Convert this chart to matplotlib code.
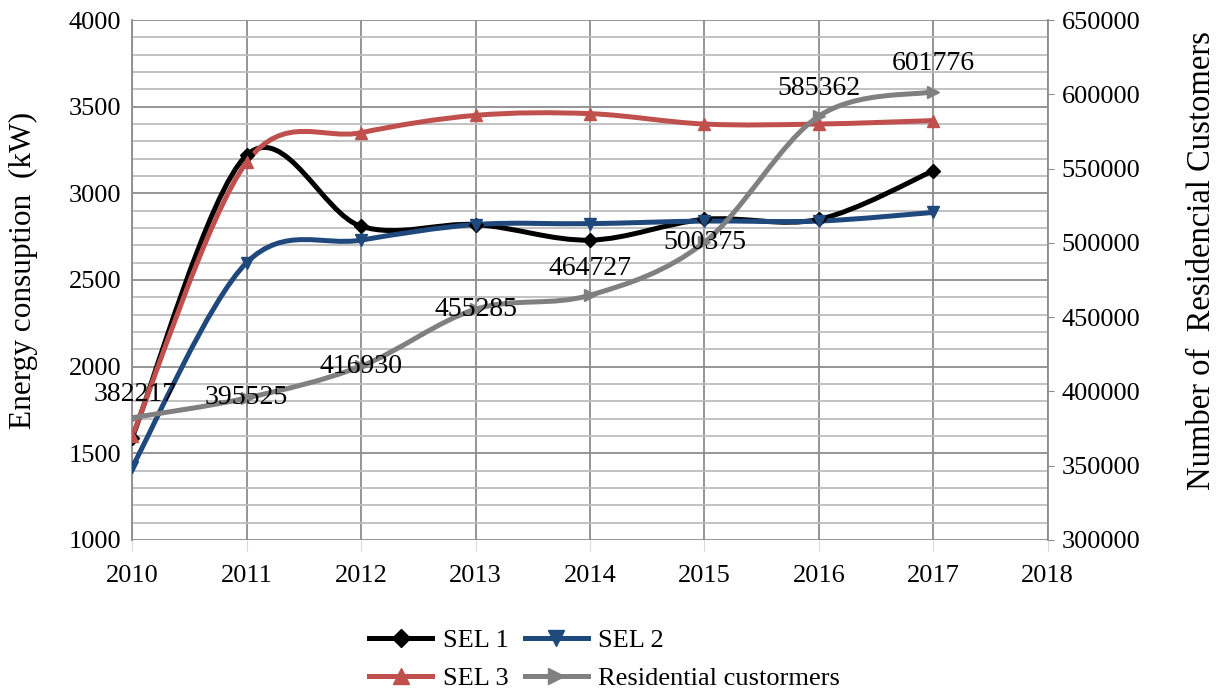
import matplotlib.pyplot as plt
import numpy as np
from matplotlib.path import Path
from matplotlib.patches import PathPatch
from matplotlib.lines import Line2D

plt.rcParams['font.family'] = ['Liberation Serif', 'DejaVu Serif']

years = [2010, 2011, 2012, 2013, 2014, 2015, 2016, 2017]
sel1 = [1590, 3220, 2810, 2820, 2730, 2850, 2850, 3130]
sel2 = [1420, 2600, 2730, 2820, 2825, 2840, 2840, 2890]
sel3 = [1600, 3180, 3350, 3450, 3460, 3400, 3400, 3420]
customers = [382217, 395525, 416930, 455285, 464727, 500375, 585362, 601776]

FS = 19


def smooth_path(x, y):
    # excel-ish smoothed line: bezier segments, catmull-rom control points
    p = np.column_stack([x, y]).astype(float)
    verts = [p[0]]
    codes = [Path.MOVETO]
    n = len(p)
    for i in range(n - 1):
        p0 = p[i - 1] if i > 0 else p[i]
        p3 = p[i + 2] if i + 2 < n else p[i + 1]
        c1 = p[i] + (p[i + 1] - p0) / 6
        c2 = p[i + 1] - (p3 - p[i]) / 6
        verts += [c1, c2, p[i + 1]]
        codes += [Path.CURVE4] * 3
    return Path(verts, codes)


fig = plt.figure(figsize=(12.24, 6.93), dpi=100)
ax = fig.add_axes([0.108, 0.221, 0.748, 0.750])
ax2 = ax.twinx()

ax.set_xlim(2010, 2018)
ax.set_ylim(1000, 4000)
ax2.set_ylim(300000, 650000)

ax.set_xticks(range(2010, 2019))
ax.set_yticks(range(1000, 4001, 500))
ax.set_yticks(range(1000, 4001, 100), minor=True)
ax2.set_yticks(range(300000, 650001, 50000))

ax.grid(which='major', color='#8c8c8c', lw=1.3)
ax.grid(which='minor', axis='y', color='#bdbdbd', lw=1.3)
ax.tick_params(axis='x', which='both', length=8, color='#d9d9d9', labelsize=FS,
               direction='out', pad=10)
ax.tick_params(axis='y', which='both', length=0, labelsize=FS, pad=8)
ax2.tick_params(axis='y', length=4, color='#8c8c8c', labelsize=FS, pad=6)
for a in (ax, ax2):
    for s in a.spines.values():
        s.set_visible(False)
ax2.spines['right'].set_visible(True)
ax2.spines['right'].set_color('#8c8c8c')
ax2.spines['right'].set_linewidth(1.3)
ax.spines['left'].set_visible(True)
ax.spines['left'].set_color('#8c8c8c')
ax.spines['left'].set_linewidth(1.3)

series = [
    (ax, sel1, '#000000', 'D', 'SEL 1', 7),
    (ax, sel2, '#1f497d', 'v', 'SEL 2', 9),
    (ax, sel3, '#c0504d', '^', 'SEL 3', 9),
    (ax2, customers, '#808080', '>', 'Residential custormers', 9),
]
handles = {}
for a, vals, col, mk, lab, ms in series:
    a.add_patch(PathPatch(smooth_path(years, vals), fill=False, edgecolor=col,
                          lw=3.6, capstyle='round', joinstyle='round', zorder=3))
    a.plot(years, vals, ls='none', marker=mk, ms=ms, color=col, zorder=4)
    handles[lab] = Line2D([], [], color=col, lw=3.6, marker=mk, ms=ms + 2)

# data labels for customers
offsets = [(2, 17), (0, 0), (0, 0), (0, 0), (0, 19), (0, 0), (0, 20), (0, 20)]
for x, v, (dx, dy) in zip(years, customers, offsets):
    ax2.annotate(str(v), (x, v), xytext=(dx, dy), textcoords='offset points',
                 ha='center', va='center', fontsize=20, zorder=5)

ax.set_ylabel('Energy consuption  (kW)', fontsize=22.5)
ax2.set_ylabel('Number of  Residencial Customers', fontsize=23.5)
ax.yaxis.set_label_coords(-0.119, 0.519)
ax2.yaxis.set_label_coords(1.168, 0.537)
ax.yaxis.label.set_va('center')
ax2.yaxis.label.set_va('center')

# legend order: row1 SEL1 SEL2, row2 SEL3 Residential (matplotlib fills by column)
order = ['SEL 1', 'SEL 3', 'SEL 2', 'Residential custormers']
fig.legend([handles[k] for k in order], order, ncol=2, loc='center',
           bbox_to_anchor=(0.494, 0.048), frameon=False, fontsize=FS,
           handlelength=2.4, columnspacing=0.6, handletextpad=0.4,
           labelspacing=0.55)

fig.savefig('out.png', dpi=100)
